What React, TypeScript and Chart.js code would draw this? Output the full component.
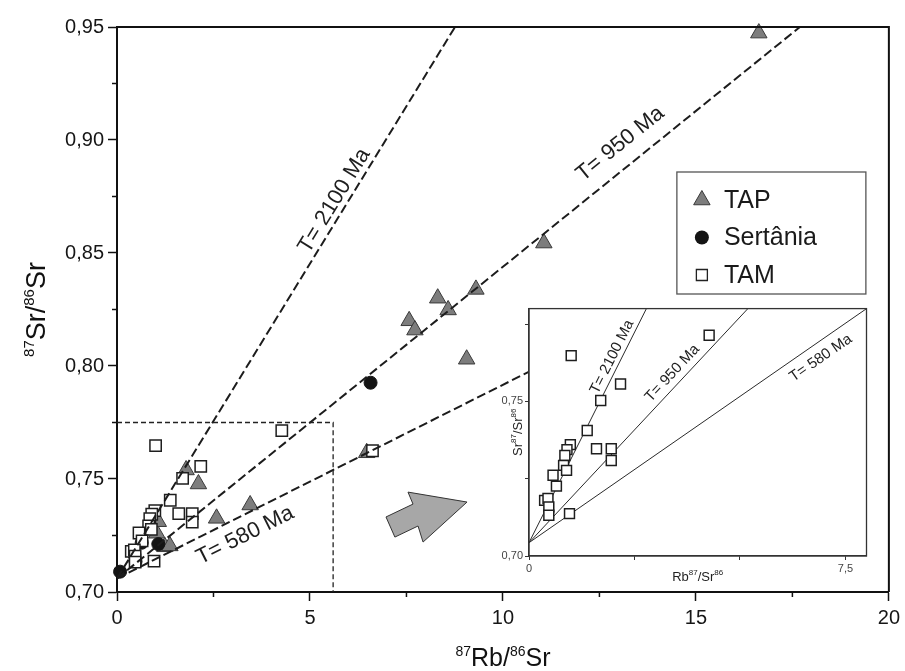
import React, { useEffect, useRef } from 'react';
import { Chart, registerables } from 'chart.js';

Chart.register(...registerables);

const FONT = "'Liberation Sans', Arial, Helvetica, sans-serif";

// TAP samples (87Rb/86Sr, 87Sr/86Sr)
const tapRb = [1.03, 1.07, 1.24, 1.37, 1.79, 2.11, 2.58, 3.45, 6.47, 7.57, 7.72, 8.31, 8.58, 9.06, 9.30, 11.06, 16.63];
const tapSr = [0.7260, 0.7311, 0.7200, 0.7204, 0.7540, 0.7478, 0.7326, 0.7385, 0.7616, 0.8200, 0.8159, 0.8300, 0.8248, 0.8030, 0.8339, 0.8544, 0.9473];

// Sertânia samples
const sertaniaRb = [0.08, 0.45, 0.48, 0.64, 1.07, 6.57];
const sertaniaSr = [0.7090, 0.7165, 0.7135, 0.7218, 0.7212, 0.7926];

// TAM samples
const tamRb = [1.00, 4.27, 2.17, 1.70, 1.38, 0.98, 0.90, 0.85, 0.82, 0.89, 1.60, 1.95, 1.95, 0.57, 0.65, 0.37, 0.45, 0.47, 0.47, 0.96, 6.62];
const tamSr = [0.7648, 0.7714, 0.7556, 0.7503, 0.7406, 0.7360, 0.7344, 0.7325, 0.7293, 0.7277, 0.7347, 0.7347, 0.7309, 0.7261, 0.7226, 0.7180, 0.7186, 0.7159, 0.7132, 0.7137, 0.7625];

// Reference isochrons of the main diagram
const isoLabels = ['T= 2100 Ma', 'T= 950 Ma', 'T= 580 Ma'];
const isoIntercept = 0.706;
const isoSlopes = [0.02786, 0.01379, 0.00857];
const isoEndRb = [9.2, 18.5, 10.68];
const isoLabelRb = [5.9, 13.4, 3.1];
const isoLabelOffset = [12, 22, 19];
const isoLabelSide = [-1, -1, 1];

// Isochrons of the enlarged window
const insetIntercept = 0.7043;
const insetSlopes = [0.0272, 0.01459, 0.00946];
const insetLabelRb = [2.16, 3.59, 6.72];
const insetLabelOffset = [9, 11, 14.5];
const insetLabelSide = [-1, -1, 1];

// Axis ticks
const xTicks = [0, 5, 10, 15, 20];
const xMinorTicks = [2.5, 7.5, 12.5, 17.5];
const yTicks = [0.70, 0.75, 0.80, 0.85, 0.90, 0.95];
const yMinorTicks = [0.725, 0.775, 0.825, 0.875, 0.925];
const insetXTicks = [0, 2.5, 5, 7.5];
const insetXLabelled = [0, 7.5];
const insetYTicks = [0.70, 0.725, 0.75, 0.775];
const insetYLabelled = [0.70, 0.75];

const legendNames = ['TAP', 'Sertânia', 'TAM'];

// Zoom window outline and the arrow pointing to the enlargement
const windowRb = 5.6;
const windowSr = 0.775;
const arrowRb = [6.97, 7.67, 7.54, 9.07, 7.93, 7.80, 7.20];
const arrowSr = [0.7332, 0.7389, 0.7442, 0.7398, 0.7221, 0.7292, 0.7243];

const fmtComma = (v: number, d: number) => v.toFixed(d).replace('.', ',');
const near = (a: number, b: number) => Math.abs(a - b) < 1e-6;

type Seg = [string, number, number];

function drawSupText(ctx: CanvasRenderingContext2D, segs: Seg[], cx: number, cy: number, rot: number, color: string) {
  ctx.save();
  ctx.translate(cx, cy);
  ctx.rotate(rot);
  let total = 0;
  const widths = segs.map(([t, s]) => {
    ctx.font = `${s}px ${FONT}`;
    const w = ctx.measureText(t).width;
    total += w;
    return w;
  });
  const maxSize = Math.max(...segs.map((s) => s[1]));
  const base = maxSize * 0.36;
  let x = -total / 2;
  ctx.fillStyle = color;
  ctx.textAlign = 'left';
  ctx.textBaseline = 'alphabetic';
  segs.forEach(([t, s, r], i) => {
    ctx.font = `${s}px ${FONT}`;
    ctx.fillText(t, x, base - r);
    x += widths[i];
  });
  ctx.restore();
}

function drawLineLabel(
  ctx: CanvasRenderingContext2D, xs: any, ys: any, icpt: number, slope: number,
  atRb: number, text: string, offset: number, side: number, size: number
) {
  const y0 = icpt + slope * atRb;
  const px = xs.getPixelForValue(atRb);
  const py = ys.getPixelForValue(y0);
  const qx = xs.getPixelForValue(atRb + 1);
  const qy = ys.getPixelForValue(y0 + slope);
  const ang = Math.atan2(qy - py, qx - px);
  const nx = side < 0 ? Math.sin(ang) : -Math.sin(ang);
  const ny = side < 0 ? -Math.cos(ang) : Math.cos(ang);
  ctx.save();
  ctx.translate(px + nx * offset, py + ny * offset);
  ctx.rotate(ang);
  ctx.font = `${size}px ${FONT}`;
  ctx.fillStyle = '#1e1e1e';
  ctx.textAlign = 'center';
  ctx.textBaseline = 'middle';
  ctx.fillText(text, 0, 0);
  ctx.restore();
}

function drawMarker(ctx: CanvasRenderingContext2D, kind: string, x: number, y: number) {
  ctx.save();
  ctx.beginPath();
  if (kind === 'triangle') {
    const r = 9.5;
    ctx.moveTo(x, y - r);
    ctx.lineTo(x + r * 0.866, y + r / 2);
    ctx.lineTo(x - r * 0.866, y + r / 2);
    ctx.closePath();
    ctx.fillStyle = '#7d7d7d';
    ctx.fill();
    ctx.strokeStyle = '#3a3a3a';
    ctx.lineWidth = 1;
    ctx.stroke();
  } else if (kind === 'circle') {
    ctx.arc(x, y, 7, 0, Math.PI * 2);
    ctx.fillStyle = '#141414';
    ctx.fill();
  } else {
    ctx.rect(x - 5.5, y - 5.5, 11, 11);
    ctx.fillStyle = '#fff';
    ctx.fill();
    ctx.strokeStyle = '#222';
    ctx.lineWidth = 1.3;
    ctx.stroke();
  }
  ctx.restore();
}

const mainDecor = {
  id: 'mainDecor',
  afterDatasetsDraw(chart: any) {
    const { ctx, chartArea: ca, scales } = chart;
    const xs = scales.x;
    const ys = scales.y;

    // dashed outline of the enlarged window
    ctx.save();
    ctx.setLineDash([5, 3]);
    ctx.strokeStyle = '#222';
    ctx.lineWidth = 1.3;
    ctx.beginPath();
    ctx.moveTo(xs.getPixelForValue(0), ys.getPixelForValue(windowSr));
    ctx.lineTo(xs.getPixelForValue(windowRb), ys.getPixelForValue(windowSr));
    ctx.lineTo(xs.getPixelForValue(windowRb), ys.getPixelForValue(0.70));
    ctx.stroke();
    ctx.restore();

    // arrow
    ctx.save();
    ctx.beginPath();
    arrowRb.forEach((r, i) => {
      const px = xs.getPixelForValue(r);
      const py = ys.getPixelForValue(arrowSr[i]);
      if (i === 0) ctx.moveTo(px, py);
      else ctx.lineTo(px, py);
    });
    ctx.closePath();
    ctx.fillStyle = '#a7a7a7';
    ctx.fill();
    ctx.strokeStyle = '#333';
    ctx.lineWidth = 1;
    ctx.stroke();
    ctx.restore();

    // isochron labels
    isoLabels.forEach((t, i) =>
      drawLineLabel(ctx, xs, ys, isoIntercept, isoSlopes[i], isoLabelRb[i], t, isoLabelOffset[i], isoLabelSide[i], 22)
    );

    // top and right frame
    ctx.save();
    ctx.strokeStyle = '#111';
    ctx.lineWidth = 2;
    ctx.beginPath();
    ctx.moveTo(ca.left, ca.top);
    ctx.lineTo(ca.right, ca.top);
    ctx.lineTo(ca.right, ca.bottom);
    ctx.stroke();

    // minor ticks
    ctx.lineWidth = 1.5;
    ctx.beginPath();
    xMinorTicks.forEach((v) => {
      const px = xs.getPixelForValue(v);
      ctx.moveTo(px, ca.bottom);
      ctx.lineTo(px, ca.bottom + 5);
    });
    yMinorTicks.forEach((v) => {
      const py = ys.getPixelForValue(v);
      ctx.moveTo(ca.left, py);
      ctx.lineTo(ca.left - 5, py);
    });
    ctx.stroke();
    ctx.restore();

    // axis titles
    drawSupText(ctx, [['87', 15, 11], ['Sr/', 27, 0], ['86', 15, 11], ['Sr', 27, 0]],
      ca.left - 82, (ca.top + ca.bottom) / 2, -Math.PI / 2, '#111');
    drawSupText(ctx, [['87', 14, 10], ['Rb/', 25, 0], ['86', 14, 10], ['Sr', 25, 0]],
      (ca.left + ca.right) / 2, ca.bottom + 65, 0, '#111');

    // legend
    const lx = ca.right - 212;
    const ly = 172;
    ctx.save();
    ctx.fillStyle = '#fff';
    ctx.fillRect(lx, ly, 189, 122);
    ctx.strokeStyle = '#555';
    ctx.lineWidth = 1.3;
    ctx.strokeRect(lx, ly, 189, 122);
    const kinds = ['triangle', 'circle', 'rect'];
    legendNames.forEach((name, i) => {
      const cy = ly + 28 + i * 37.5;
      drawMarker(ctx, kinds[i], lx + 25, cy);
      ctx.font = `25px ${FONT}`;
      ctx.fillStyle = '#1a1a1a';
      ctx.textAlign = 'left';
      ctx.textBaseline = 'middle';
      ctx.fillText(name, lx + 47, cy + 1);
    });
    ctx.restore();
  },
};

const insetDecor = {
  id: 'insetDecor',
  beforeDraw(chart: any) {
    const { ctx, chartArea: ca } = chart;
    ctx.save();
    ctx.fillStyle = '#fff';
    ctx.fillRect(ca.left, ca.top, ca.right - ca.left, ca.bottom - ca.top);
    ctx.restore();
  },
  afterDatasetsDraw(chart: any) {
    const { ctx, chartArea: ca, scales } = chart;
    const xs = scales.x;
    const ys = scales.y;
    isoLabels.forEach((t, i) =>
      drawLineLabel(ctx, xs, ys, insetIntercept, insetSlopes[i], insetLabelRb[i], t, insetLabelOffset[i], insetLabelSide[i], 15)
    );
    ctx.save();
    ctx.strokeStyle = '#333';
    ctx.lineWidth = 1.3;
    ctx.strokeRect(ca.left, ca.top, ca.right - ca.left, ca.bottom - ca.top);
    ctx.restore();
    drawSupText(ctx, [['Sr', 13, 0], ['87', 8, 6], ['/Sr', 13, 0], ['86', 8, 6]],
      ca.left - 12, (ca.top + ca.bottom) / 2, -Math.PI / 2, '#222');
    drawSupText(ctx, [['Rb', 13, 0], ['87', 8, 6], ['/Sr', 13, 0], ['86', 8, 6]],
      (ca.left + ca.right) / 2, ca.bottom + 20, 0, '#222');
  },
};

function pts(xsArr: number[], ysArr: number[]) {
  return xsArr.map((x, i) => ({ x, y: ysArr[i] }));
}

export default function App() {
  const mainRef = useRef<HTMLCanvasElement>(null);
  const insetRef = useRef<HTMLCanvasElement>(null);

  useEffect(() => {
    if (!mainRef.current || !insetRef.current) return;

    const isoSets = isoSlopes.map((m, i) => ({
      label: isoLabels[i],
      data: [{ x: 0, y: isoIntercept }, { x: isoEndRb[i], y: isoIntercept + m * isoEndRb[i] }],
      showLine: true,
      pointRadius: 0,
      borderColor: '#1c1c1c',
      borderWidth: 2,
      borderDash: [9, 4],
      fill: false,
    }));

    const tamSet = {
      label: 'TAM',
      data: pts(tamRb, tamSr),
      pointStyle: 'rect',
      pointRadius: 8,
      backgroundColor: '#ffffff',
      borderColor: '#1e1e1e',
      borderWidth: 1.5,
      clip: false,
    };
    const sertSet = {
      label: 'Sertânia',
      data: pts(sertaniaRb, sertaniaSr),
      pointStyle: 'circle',
      pointRadius: 6.5,
      backgroundColor: '#141414',
      borderColor: '#141414',
      borderWidth: 1,
      clip: false,
    };
    const tapSet = {
      label: 'TAP',
      data: pts(tapRb, tapSr),
      pointStyle: 'triangle',
      pointRadius: 9.5,
      backgroundColor: '#7d7d7d',
      borderColor: '#3a3a3a',
      borderWidth: 1,
      clip: false,
    };

    const main = new Chart(mainRef.current, {
      type: 'scatter',
      data: { datasets: [...isoSets, tamSet, sertSet, tapSet] as any },
      options: {
        animation: false,
        responsive: false,
        devicePixelRatio: 1,
        layout: { padding: { top: 27, right: 16, left: 0, bottom: 0 } },
        plugins: { legend: { display: false }, tooltip: { enabled: false } },
        scales: {
          x: {
            type: 'linear',
            min: 0,
            max: 20,
            afterFit: (s: any) => { s.height = 79; },
            afterBuildTicks: (s: any) => { s.ticks = xTicks.map((value) => ({ value })); },
            ticks: {
              font: { family: FONT, size: 20 },
              color: '#161616',
              padding: 5,
              autoSkip: false,
              maxRotation: 0,
              callback: (v: any) => String(v),
            },
            grid: { drawOnChartArea: false, drawTicks: true, tickLength: 9, tickWidth: 1.5, tickColor: '#111' },
            border: { display: true, width: 2, color: '#111' },
          },
          y: {
            type: 'linear',
            min: 0.70,
            max: 0.95,
            afterFit: (s: any) => { s.width = 117; },
            afterBuildTicks: (s: any) => { s.ticks = yTicks.map((value) => ({ value })); },
            ticks: {
              font: { family: FONT, size: 20 },
              color: '#161616',
              padding: 4,
              autoSkip: false,
              callback: (v: any) => fmtComma(Number(v), 2),
            },
            grid: { drawOnChartArea: false, drawTicks: true, tickLength: 9, tickWidth: 1.5, tickColor: '#111' },
            border: { display: true, width: 2, color: '#111' },
          },
        },
      } as any,
      plugins: [mainDecor],
    });

    const insetLines = insetSlopes.map((m, i) => {
      const end = Math.min(8.2, (0.782 - insetIntercept) / m);
      return {
        label: isoLabels[i],
        data: [{ x: 0, y: insetIntercept }, { x: end, y: insetIntercept + m * end }],
        showLine: true,
        pointRadius: 0,
        borderColor: '#2a2a2a',
        borderWidth: 1,
        fill: false,
      };
    });
    const insetTam = {
      label: 'TAM',
      data: pts(tamRb, tamSr).filter((p) => p.x < 5),
      pointStyle: 'rect',
      pointRadius: 7,
      backgroundColor: '#ffffff',
      borderColor: '#1e1e1e',
      borderWidth: 1.5,
    };

    const inset = new Chart(insetRef.current, {
      type: 'scatter',
      data: { datasets: [insetTam, ...insetLines] as any },
      options: {
        animation: false,
        responsive: false,
        devicePixelRatio: 1,
        layout: { padding: { top: 7, right: 8, left: 0, bottom: 0 } },
        plugins: { legend: { display: false }, tooltip: { enabled: false } },
        scales: {
          x: {
            type: 'linear',
            min: 0,
            max: 8.0,
            afterFit: (s: any) => { s.height = 34; },
            afterBuildTicks: (s: any) => { s.ticks = insetXTicks.map((value) => ({ value })); },
            ticks: {
              font: { family: FONT, size: 11 },
              color: '#444',
              padding: 2,
              autoSkip: false,
              maxRotation: 0,
              callback: (v: any) => (insetXLabelled.some((l) => near(l, Number(v))) ? fmtComma(Number(v), Number(v) % 1 ? 1 : 0) : ''),
            },
            grid: { drawOnChartArea: false, drawTicks: true, tickLength: 4, tickWidth: 1, tickColor: '#333' },
            border: { display: true, width: 1.3, color: '#333' },
          },
          y: {
            type: 'linear',
            min: 0.70,
            max: 0.78,
            afterFit: (s: any) => { s.width = 39; },
            afterBuildTicks: (s: any) => { s.ticks = insetYTicks.map((value) => ({ value })); },
            ticks: {
              font: { family: FONT, size: 11 },
              color: '#444',
              padding: 2,
              autoSkip: false,
              callback: (v: any) => (insetYLabelled.some((l) => near(l, Number(v))) ? fmtComma(Number(v), 2) : ''),
            },
            grid: { drawOnChartArea: false, drawTicks: true, tickLength: 4, tickWidth: 1, tickColor: '#333' },
            border: { display: true, width: 1.3, color: '#333' },
          },
        },
      } as any,
      plugins: [insetDecor],
    });

    return () => {
      main.destroy();
      inset.destroy();
    };
  }, []);

  return (
    <div style={{ position: 'fixed', left: 0, top: 0, width: 905, height: 671, background: '#fff' }}>
      <canvas ref={mainRef} width={905} height={671} style={{ position: 'absolute', left: 0, top: 0, width: 905, height: 671 }} />
      <canvas ref={insetRef} width={385} height={290} style={{ position: 'absolute', left: 490, top: 300, width: 385, height: 290 }} />
    </div>
  );
}
